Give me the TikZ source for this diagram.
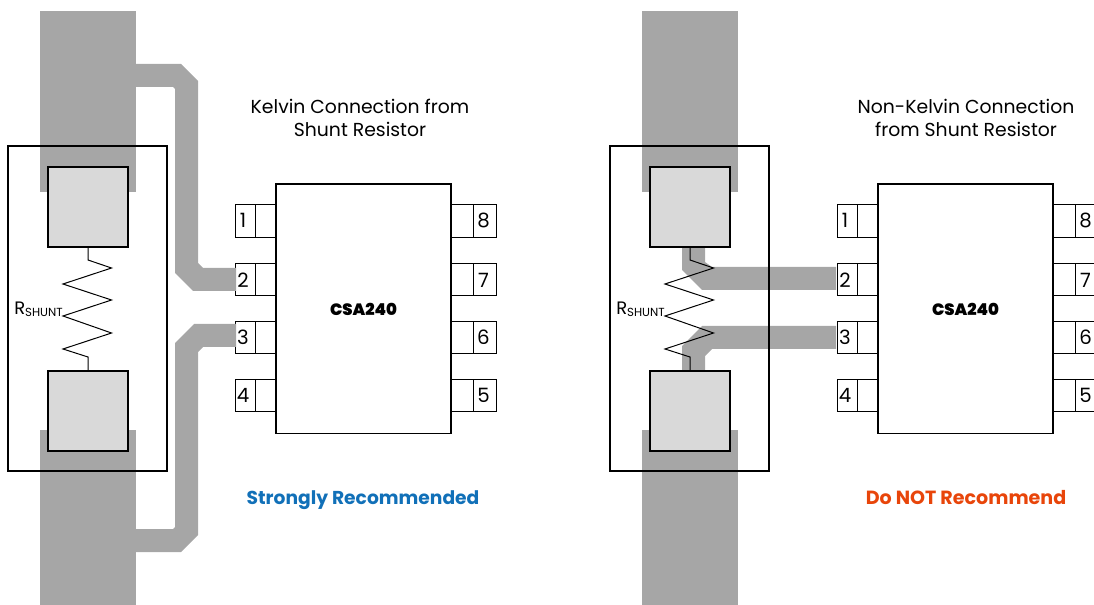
\documentclass[tikz,border=0pt]{standalone}
\usepackage{fontspec}
\setmainfont{Poppins}
\newfontfamily\heavyfont{Poppins Black}
\definecolor{strapc}{HTML}{A6A6A6}
\definecolor{padc}{HTML}{D9D9D9}
\definecolor{bluec}{HTML}{1170B8}
\definecolor{redc}{HTML}{E8450A}
\tikzset{
  strap/.style={fill=strapc,draw=none},
  outline/.style={draw=black,line width=1.3pt,fill=none},
  padbox/.style={draw=black,line width=1.4pt,fill=padc},
  chipbox/.style={draw=black,line width=1.3pt,fill=white},
  pinbox/.style={draw=black,line width=0.7pt,fill=white},
  zigzag/.style={draw=black,line width=0.75pt,line join=miter},
  pinlabel/.style={font=\fontsize{14.8}{16}\selectfont,inner sep=0pt,anchor=center},
  titlelabel/.style={font=\fontsize{14.1}{17.2}\selectfont,align=center,inner sep=0pt},
  chiplabel/.style={font=\heavyfont\fontsize{12.3}{13}\selectfont,inner sep=0pt},
  verdict/.style={font=\bfseries\fontsize{14}{15}\selectfont,inner sep=0pt,anchor=base},
  verdictb/.style={font=\bfseries\fontsize{14.3}{15}\selectfont,inner sep=0pt,anchor=base},
  shuntlabel/.style={font=\fontsize{13.5}{14}\selectfont,inner sep=0pt,anchor=west},
  base/.pic={
    \fill[strap] (40,11) rectangle (136,192);
    \fill[strap] (40,430) rectangle (136,605);
    \foreach \t/\b in {204/237,263/295,321/353,379/411}{
      \draw[pinbox] (235,\t) rectangle (255,\b);
      \draw[pinbox] (255,\t) rectangle (276,\b);
      \draw[pinbox] (451,\t) rectangle (473,\b);
      \draw[pinbox] (473,\t) rectangle (496,\b);
    }
  },
  front/.pic={
    \draw[outline] (8,146) rectangle (167,471);
    \draw[padbox] (48,167) rectangle (128,247);
    \draw[padbox] (48,371) rectangle (128,451);
    \draw[zigzag] (88,247) -- (88,260) -- (111.5,268) -- (63,284) -- (111.5,300) -- (63,316) -- (111.5,333) -- (63,349) -- (88,357) -- (88,371);
    \node[shuntlabel] at (14,309.5) {R\fontsize{8.8}{10}\selectfont\raisebox{-1.5pt}{SHUNT}};
    \draw[chipbox] (276,184) rectangle (451,433.5);
    \node[chiplabel] at (363.5,309) {CSA240};
    \foreach \y/\l/\r in {220.5/1/8,280/2/7,337.5/3/6,395.5/4/5}{
      \node[pinlabel] at (243,\y) {\l};
      \node[pinlabel] at (483.5,\y) {\r};
    }
  }
}
\begin{document}
\begin{tikzpicture}[x=0.75pt,y=-0.75pt]
\useasboundingbox (0,0) rectangle (1094,605);
\clip (0,0) rectangle (1094,605);
% Left diagram
\pic at (0,0) {base};
\fill[strap] (136,64) -- (181,64) -- (198,81) -- (198,263) -- (203,268) -- (236,268) -- (236,291) -- (193,291) -- (175,273) -- (175,89) -- (173,87) -- (136,87) -- cycle;
\fill[strap] (136,552) -- (181,552) -- (198,535) -- (198,352) -- (203,347) -- (236,347) -- (236,324) -- (194,324) -- (175,343) -- (175,527) -- (173,529) -- (136,529) -- cycle;
\pic at (0,0) {front};
\node[titlelabel] (ltitle) at (360,117.5) {Kelvin Connection from\\Shunt Resistor};
\node[verdict,text=bluec] (lverdict) at (363,504) {Strongly Recommended};
% Right diagram
\pic at (602,0) {base};
\fill[strap] (682,247) -- (705,247) -- (705,262) -- (712,267) -- (836,267) -- (836,290) -- (702,290) -- (682,270) -- cycle;
\fill[strap] (682,371) -- (705,371) -- (705,356) -- (712,349) -- (836,349) -- (836,326) -- (702,326) -- (682,346) -- cycle;
\pic at (602,0) {front};
\node[titlelabel] (rtitle) at (966,117.5) {Non-Kelvin Connection\\from Shunt Resistor};
\node[verdictb,text=redc] (rverdict) at (966,504) {Do NOT Recommend};
\end{tikzpicture}
\end{document}
